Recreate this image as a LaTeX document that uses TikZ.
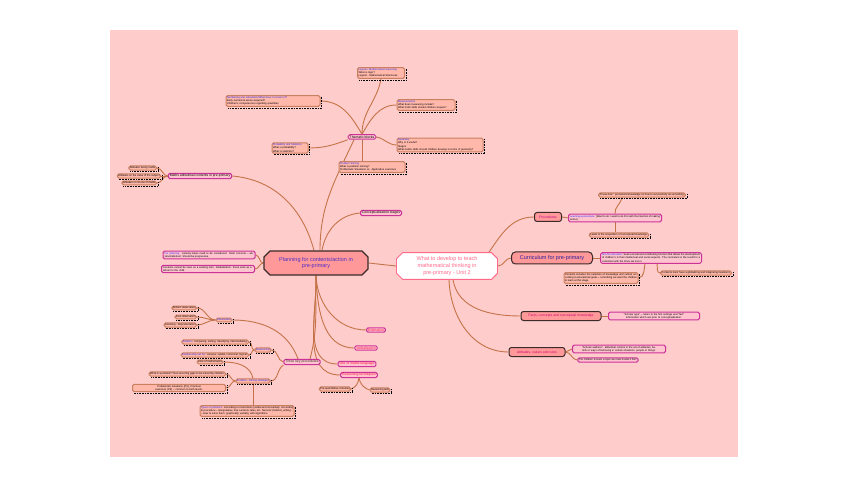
\documentclass[tikz,border=0pt]{standalone}
\usepackage{fontspec}
\setmainfont{Liberation Sans}
\usepackage{xcolor}
\usepackage{tikz}
\usetikzlibrary{shapes.misc,backgrounds}

\definecolor{bgpink}{HTML}{FFCCCC}
\definecolor{salmon}{HTML}{FF9999}
\definecolor{darkline}{HTML}{3A2A2A}
\definecolor{rootpink}{HTML}{FF6A8A}
\definecolor{planblue}{HTML}{4B2CC4}
\definecolor{currblue}{HTML}{2B1D9A}
\definecolor{procmag}{HTML}{C0008F}
\definecolor{factmag}{HTML}{D0006F}
\definecolor{boxpink}{HTML}{FFC4CE}
\definecolor{boxsal}{HTML}{FFB8AA}
\definecolor{magline}{HTML}{CC3399}
\definecolor{brline}{HTML}{C8805F}
\definecolor{linkc}{HTML}{C47448}
\definecolor{redt}{HTML}{FF1040}
\definecolor{headblue}{HTML}{2A2AFF}

\newcommand{\fdet}{\fontsize{2.6}{3.3}\selectfont}
\newcommand{\flab}{\fontsize{3.4}{4}\selectfont}
\newcommand{\fbig}{\fontsize{5.5}{6.8}\selectfont}
\newcommand{\bluehead}[1]{\textcolor{headblue}{#1}}

\begin{document}
\begin{tikzpicture}[x=1pt, y=1pt,
  link/.style={draw=linkc, line width=0.9pt},
  rootbox/.style={chamfered rectangle, chamfered rectangle xsep=3pt, chamfered rectangle ysep=3pt,
    fill=white, draw=rootpink, line width=0.9pt, text=rootpink, font=\fbig, align=center,
    minimum width=101pt, minimum height=23pt, inner sep=1pt},
  planbox/.style={chamfered rectangle, chamfered rectangle xsep=3pt, chamfered rectangle ysep=3pt,
    fill=salmon, draw=darkline, line width=1.1pt, text=planblue, font=\fbig, align=center,
    minimum width=104pt, minimum height=24pt, inner sep=1pt},
  branch/.style={fill=salmon, draw=darkline, line width=1pt, rounded corners=2.5pt, font=\flab,
    minimum height=9pt, inner sep=1pt},
  magbox/.style={fill=boxpink, draw=magline, line width=1pt, rounded corners=1.5pt, font=\flab,
    inner xsep=1.5pt, inner ysep=1pt},
  brbox/.style={fill=boxsal, draw=brline, line width=1pt, rounded corners=1.5pt, font=\fdet,
    inner xsep=1pt, inner ysep=0.8pt},
  redtxt/.style={text=redt}]

  \useasboundingbox (0,0) rectangle (848,-486);

  % centre and main branches
  \node[rootbox] (root) at (447,-266) {What to develop to teach\\mathematical thinking in\\pre-primary - Unit 2};
  \node[planbox] (plan) at (316,-263) {Planning for contents/action in\\pre-primary};
  \node[branch, font=\fbig, text=currblue, minimum width=81pt, minimum height=12pt, rounded corners=4pt] (curr) at (552,-258) {Curriculum for pre-primary};
  \node[branch, text=procmag, minimum width=27pt] (proc) at (548,-217) {Procedures};
  \node[branch, text=factmag, minimum width=80pt] (facts) at (561,-316) {Facts, concepts and conceptual knowledge};
  \node[branch, text=factmag, minimum width=56pt] (attit) at (537,-352) {Attitudes, values and rules};

  % thematic blocks
  \node[magbox] (thematic) at (362,-137) {Thematic blocks};
  \node[brbox, text width=45pt, align=left] (logical) at (381,-73) {\bluehead{Logical / Mathematical reasoning}\\What is logic?\\Logical - Mathematical Structures};
  \node[brbox, text width=92pt, align=left] (numbering) at (273,-101) {\bluehead{Numbering and calculation/What does it consist of?}\\Early numerical sense acquired?\\Children's competences regarding quantities};
  \node[brbox, text width=56pt, align=left] (measure) at (426,-105) {\bluehead{Measurements}\\What does measuring include?\\What math skills should children acquire?};
  \node[brbox, text width=34pt, align=left] (probab) at (290,-148) {\bluehead{Probability and Statistics}\\What is probability?\\What is statistics?};
  \node[brbox, text width=84pt, align=left] (geom) at (440,-145) {\bluehead{Geometry}\\Why is it useful?\\Stages\\What maths skills should children develop in terms of geometry?};
  \node[brbox, text width=64pt, align=left] (probsolv) at (372,-167) {\bluehead{Problem Solving}\\What is problem solving?\\Problematic Situations vs. Application exercises};

  % attitudinal contents
  \node[magbox] (attmath) at (200,-176) {Maths attitudinal contents in pre-primary};
  \node[brbox, anchor=east] (attface) at (157,-168) {Attitudes facing maths};
  \node[brbox, anchor=east] (attvalue) at (161,-176) {Attitudes on the value of the subject};
  \node[brbox, anchor=east] (attuse) at (157,-183) {Attitudes on its use of maths};

  \node[magbox] (concept) at (381,-213) {Conceptualisation stages};
  \node[magbox, font=\fdet, text width=89pt, align=justify] (forplan) at (209,-255) {\bluehead{For planning:} curiosity basis need to be considered. Most concrete -- abstract/abstract. Should be progressive.};
  \node[magbox, font=\fdet, text width=90pt, align=left] (cannot) at (208,-269) {Contents cannot be seen as a working item. Globalisation: these work as a whole for the child.};

  % below planning
  \node[magbox, redtxt] (estim) at (376,-330) {Estimation};
  \node[magbox, redtxt] (verbal) at (366,-348) {Verbalisation};
  \node[magbox, redtxt] (mlang) at (357,-364) {Use of maths language};
  \node[magbox, redtxt] (reason) at (359,-375) {Reasoning techniques};
  \node[brbox] (prequant) at (335,-389) {Pre-quantitative schemes};
  \node[brbox] (raids) at (380,-390) {Reasoning aids};
  \node[magbox, text=darkline] (three) at (302,-362) {Three key procedures};

  \node[brbox, text=headblue] (observ) at (224,-320) {Observation};
  \node[brbox, anchor=east] (distinct) at (197,-308) {Distinct observation};
  \node[brbox, anchor=east] (freeobs) at (197,-317) {Free observation};
  \node[brbox, anchor=east] (assist) at (197,-325) {Assisting - Representation};

  \node[brbox, text=headblue] (relship) at (263,-350) {Relationship};
  \node[brbox, anchor=east] (relation) at (249,-342) {\bluehead{Relation:} comparing, sorting, classifying, intermediating.};
  \node[brbox, anchor=east] (relcan) at (249,-355) {\bluehead{Relationship can be:} conveys, spatial, numerical, logical.};

  \node[brbox, text=headblue] (psstrat) at (253,-381) {Problem - solving strategies};
  \node[brbox] (core) at (210,-362) {Core of mathematics};
  \node[brbox, anchor=east] (whatis) at (226,-374) {What is a problem? Non-recurring gaps to be solved by children.};
  \node[brbox, anchor=east, text width=91pt, align=center] (problsit) at (226,-388) {Problematic situations (PS), Practical exercises (PE) -- common to both levels.};
  \node[brbox, text width=92pt, align=justify] (types) at (247,-411) {\bluehead{Types of problems:} According to instructions (verbal and nonverbal). According to procedure -- manipulative, free contents, tales, etc. Numeric (holistic), writing... -- How to solve them: graphically, verbally, with algorithms.};

  % curriculum side
  \node[magbox, font=\fdet, text width=90pt, align=justify] (learning) at (615,-218) {\bluehead{Learning a procedure:} (Want to do = want to do it for with the intention of making sense).};
  \node[brbox] (knowhow) at (642,-195) {``Know-how'': procedural knowledge on how to successfully do something.};
  \node[brbox] (leads) at (619,-235) {Leads to the acquisition of conceptual knowledge.};
  \node[magbox, font=\fdet, text width=98pt, align=justify] (aim) at (651,-258) {\bluehead{Aim for education:} Seek a social and contributing function that allows the development of children's in their intellectual and social aspects. The curriculum is the result for a consistent with the times we live in.};
  \node[brbox, text width=72pt, align=justify] (contincl) at (601,-278) {Contents includes the selection of knowledge and culture according to educational goals -- something we want the children to learn at this stage.};
  \node[brbox] (contmust) at (696,-273) {Contents must have a globalizing and integrating treatment.};
  \node[magbox, font=\fdet, text width=88pt, align=center] (scholtype) at (654,-316) {``Scholar type'' -- refers to the first settings and ``fact'' information which are prior to conceptualisation.};
  \node[magbox, font=\fdet, text width=90pt, align=center] (scholaddr) at (619,-349) {``Scholar address'': attitudinal content is the set of attitudes, beliefs or ways of behaving in certain situations, people or things.};
  \node[magbox, font=\fdet] (forchild) at (608,-360) {For children to learn a topic we must model it first.};

  \foreach \n in {logical,numbering,measure,probab,geom,probsolv,attface,attvalue,attuse,knowhow,leads,contincl,contmust,prequant,raids,observ,relship,psstrat,distinct,freeobs,assist,relation,relcan,core,whatis,problsit,types}
    \draw[black, densely dotted, line width=0.6pt] ([xshift=1.2pt,yshift=-1.5pt]\n.north east) -- ([xshift=1.2pt,yshift=-1.2pt]\n.south east) -- ([xshift=2pt,yshift=-1.2pt]\n.south west);

  \begin{scope}[on background layer]
    \fill[bgpink] (110,-30) rectangle (738,-457);
    \draw[link] (root.west) -- (plan.east);
    \draw[link] (root.east) to[out=0,in=180] (curr.west);
    \draw[link] ([xshift=-8pt]root.north east) to[out=55,in=180] (proc.west);
    \draw[link] ([xshift=6pt]root.south) to[out=-80,in=180] (facts.west);
    \draw[link] ([xshift=2pt]root.south) to[out=-88,in=180] (attit.west);

    \draw[link] ([xshift=4pt]plan.north) to[out=90,in=-115] ([xshift=-8pt]thematic.south);
    \draw[link] ([xshift=-2pt]plan.north) to[out=105,in=-5] (attmath.east);
    \draw[link] ([xshift=6pt]plan.north) to[out=80,in=185] (concept.west);
    \draw[link] (plan.west) to[out=180,in=0] (forplan.east);
    \draw[link] (plan.west) to[out=180,in=0] (cannot.east);
    \foreach \n in {estim,verbal,mlang,reason}
      \draw[link] (plan.south) to[out=-88,in=180] (\n.west);
    \draw[link] (plan.south) to[out=-92,in=75] ([xshift=8pt]three.north);

    \draw[link] (observ.east) to[out=0,in=110] ([xshift=-4pt]three.north);
    \draw[link] (relship.east) to[out=0,in=170] (three.west);
    \draw[link] (three.south west) to[out=-150,in=0] (psstrat.east);
    \foreach \n in {distinct,freeobs,assist}
      \draw[link] (observ.west) to[out=180,in=0] (\n.east);
    \foreach \n in {relation,relcan}
      \draw[link] (relship.west) to[out=180,in=0] (\n.east);
    \foreach \n in {whatis,problsit}
      \draw[link] (psstrat.west) to[out=180,in=0] (\n.east);
    \draw[link] (psstrat.north) to[out=100,in=0] (core.east);
    \draw[link] (psstrat.south) -- (psstrat.south |- types.north);
    \draw[link] (reason.south) to[out=-100,in=20] (prequant.east);
    \draw[link] (reason.south) to[out=-80,in=160] (raids.west);

    \draw[link] (thematic.north) to[out=90,in=-100] (logical.south);
    \draw[link] (thematic.north) to[out=120,in=0] (numbering.east);
    \draw[link] (thematic.north) to[out=60,in=180] (measure.west);
    \draw[link] (thematic.south west) to[out=200,in=0] (probab.east);
    \draw[link] (thematic.east) to[out=-10,in=180] (geom.west);
    \draw[link] (thematic.south) -- (thematic.south |- probsolv.north);
    \foreach \n in {attface,attvalue,attuse}
      \draw[link] (attmath.west) to[out=180,in=0] (\n.east);

    \draw[link] (proc.east) -- (learning.west);
    \draw[link] (learning.north) to[out=95,in=-100] ([xshift=-20pt]knowhow.south);
    \draw[link] (learning.south) -- (learning.south |- leads.north);
    \draw[link] (curr.east) -- (aim.west);
    \draw[link] ([xshift=-6pt]aim.south) to[out=-100,in=10] (contincl.east);
    \draw[link] ([xshift=6pt]aim.south) to[out=-80,in=180] (contmust.west);
    \draw[link] (facts.east) -- (scholtype.west);
    \draw[link] (attit.east) to[out=0,in=180] (scholaddr.west);
    \draw[link] (attit.east) to[out=0,in=180] (forchild.west);
  \end{scope}
\end{tikzpicture}
\end{document}
